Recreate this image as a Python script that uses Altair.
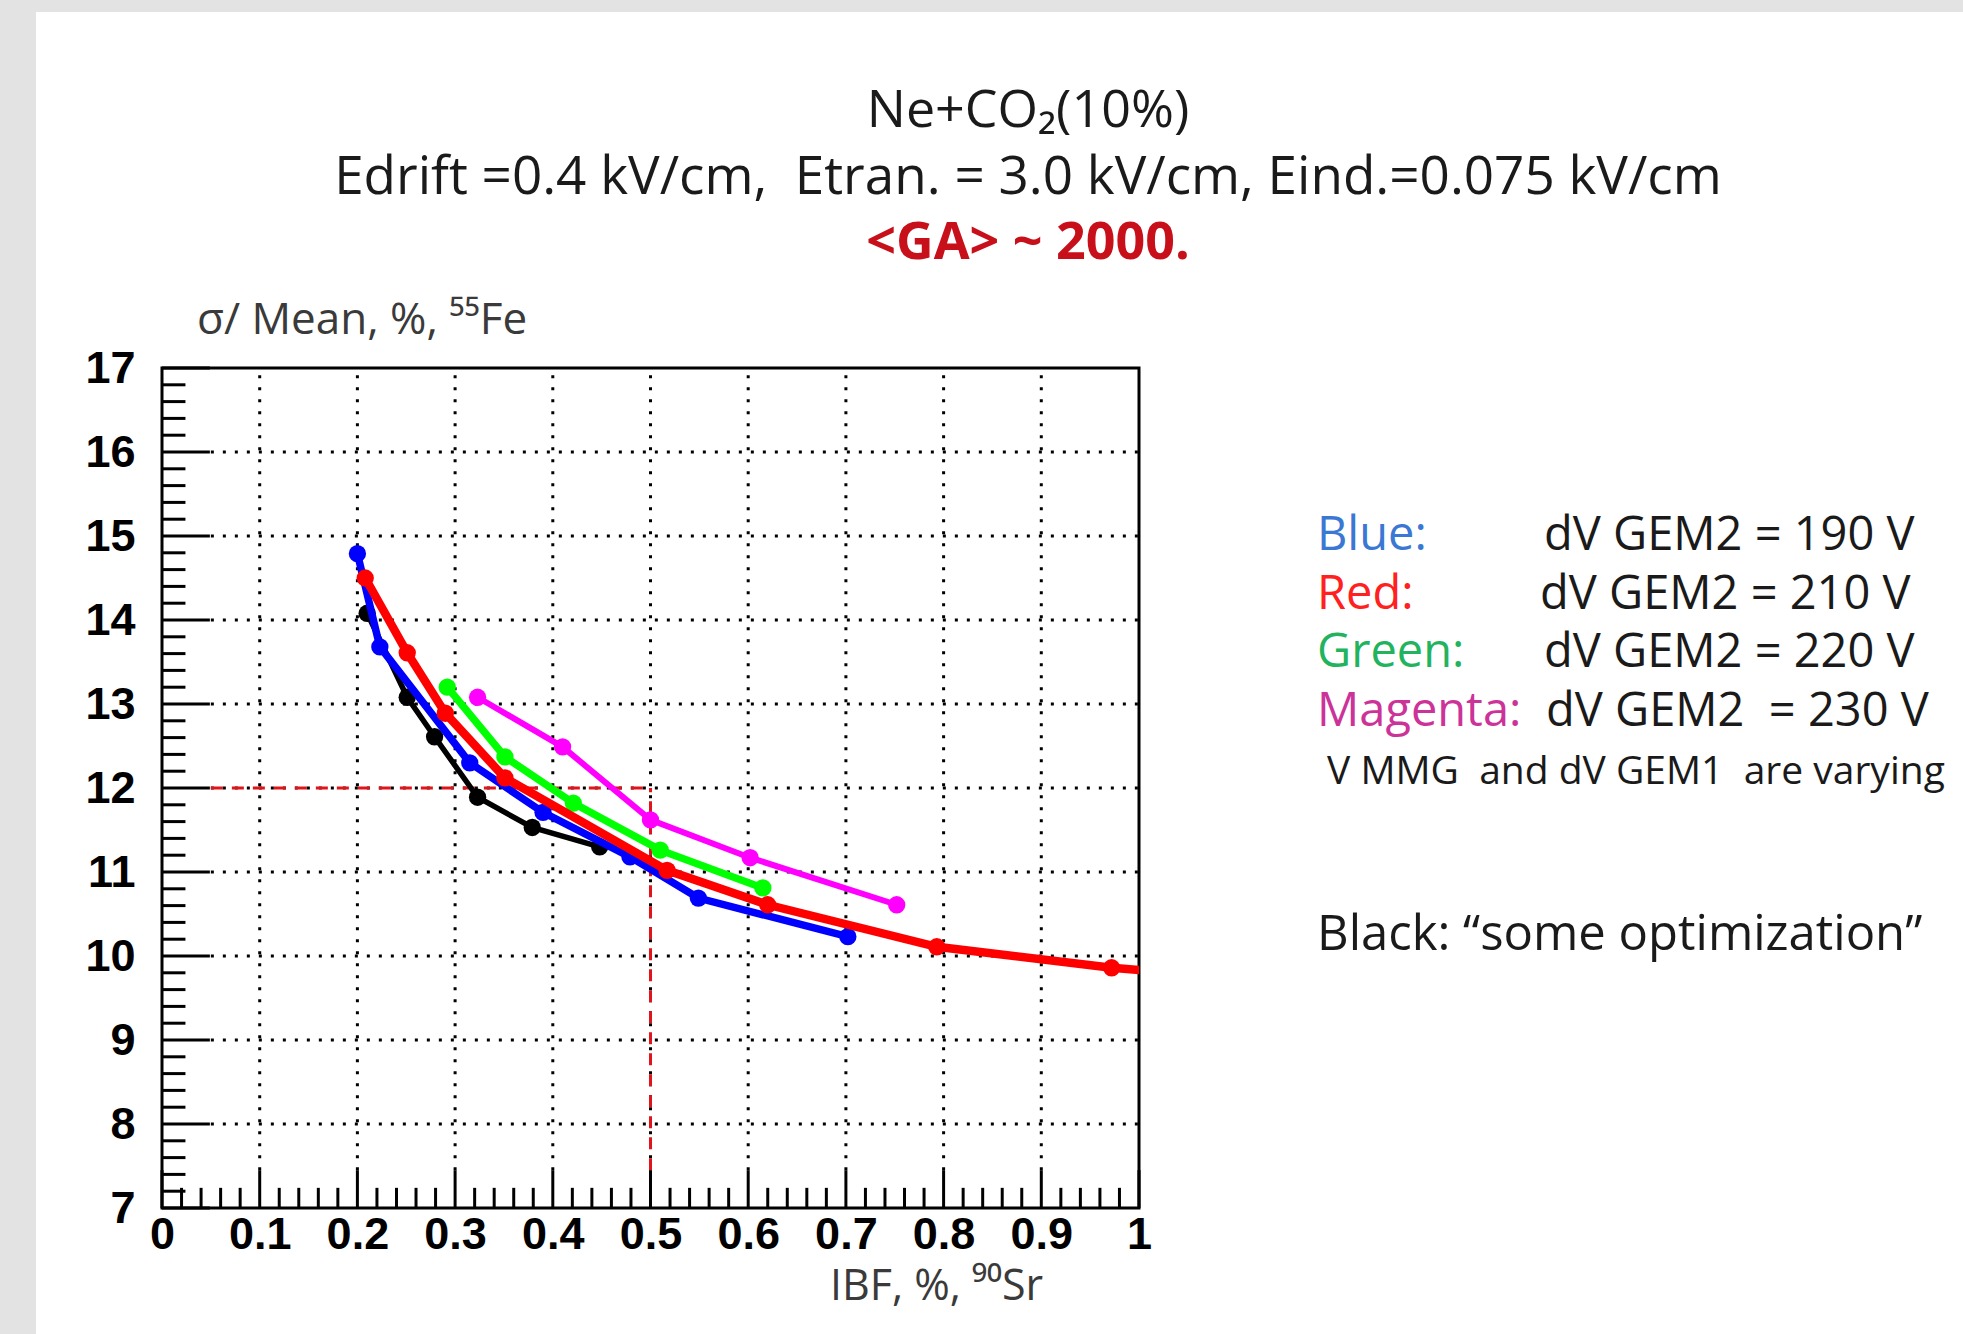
import altair as alt
import pandas as pd

# ---------------- data ----------------
black_x = [0.210, 0.251, 0.279, 0.323, 0.379, 0.448]
black_y = [14.08, 13.08, 12.61, 11.89, 11.53, 11.30]
blue_x = [0.200, 0.223, 0.315, 0.390, 0.479, 0.549, 0.702]
blue_y = [14.79, 13.68, 12.30, 11.71, 11.18, 10.69, 10.23]
green_x = [0.292, 0.351, 0.421, 0.510, 0.615]
green_y = [13.20, 12.37, 11.82, 11.26, 10.81]
magenta_x = [0.323, 0.410, 0.500, 0.602, 0.752]
magenta_y = [13.08, 12.49, 11.62, 11.17, 10.61]
red_x = [0.208, 0.251, 0.290, 0.351, 0.517, 0.620, 0.793, 0.972, 1.080]
red_y = [14.50, 13.61, 12.89, 12.12, 11.02, 10.61, 10.11, 9.86, 9.76]

series = [
    ("Black", black_x, black_y, "#000000", 5.5),
    ("Blue", blue_x, blue_y, "#0000ff", 7.5),
    ("Green", green_x, green_y, "#00ff00", 7.5),
    ("Magenta", magenta_x, magenta_y, "#ff00ff", 6),
    ("Red", red_x, red_y, "#ff0000", 8.5),
]

x_major = [0, 0.1, 0.2, 0.3, 0.4, 0.5, 0.6, 0.7, 0.8, 0.9, 1]
y_major = [7, 8, 9, 10, 11, 12, 13, 14, 15, 16, 17]
x_minor = [round(i * 0.02, 2) for i in range(51) if i % 5]
y_minor = [round(7 + i * 0.2, 1) for i in range(51) if i % 5]
x_grid = x_major[1:-1]
y_grid = y_major[1:-1]
ref_x = [0.5]
ref_y = [12]

NB = "\u00a0"
title_lines = ["Ne+CO\u2082(10%)",
               "Edrift =0.4 kV/cm," + NB + " Etran. = 3.0 kV/cm, Eind.=0.075 kV/cm",
               "<GA> ~ 2000."]
legend_keys = ["Blue:", "Red:", "Green:", "Magenta:"]
legend_vals = ["dV GEM2 = 190 V", "dV GEM2 = 210 V", "dV GEM2 = 220 V",
               "dV GEM2 " + NB + "= 230 V"]
legend_key_colors = ["#3a78d4", "#ff2020", "#22b35e", "#cc3399"]
note_text = "V MMG " + NB + "and dV GEM1 " + NB + "are varying"
black_note = "Black: \u201csome optimization\u201d"
y_title = "\u03c3/ Mean, %, \u2075\u2075Fe"
x_title = "IBF, %, \u2079\u2070Sr"

# ---------------- layout ----------------
L, T, W, H = 162, 368, 977, 840
CW, CH = 1963, 1334

xs = alt.Scale(domain=[0, 1], nice=False, zero=False)
ys = alt.Scale(domain=[7, 17], nice=False, zero=False)
X_AX = alt.Axis(values=x_major, format=".1~f", labelFont="Liberation Sans",
                labelFontWeight="bold", labelFontSize=45, labelColor="black",
                labelPadding=4, ticks=False, domain=False, grid=False, title=None,
                labelFlush=False, labelOverlap=False)
Y_AX = alt.Axis(values=y_major, format="d", labelFont="Liberation Sans",
                labelFontWeight="bold", labelFontSize=45, labelColor="black",
                labelPadding=27, ticks=False, domain=False, grid=False, title=None,
                labelFlush=False, labelOverlap=False)


def X(f):
    return alt.X(f, type="quantitative", scale=xs, axis=X_AX)


def Y(f):
    return alt.Y(f, type="quantitative", scale=ys, axis=Y_AX)


layers = []

# background strips (textured frame of the slide)
strip = pd.DataFrame({"a": [0]})
layers.append(alt.Chart(strip).mark_rect(color="#e3e3e3").encode(
    x=alt.value(-L), x2=alt.value(36 - L), y=alt.value(-T), y2=alt.value(CH - T)))
layers.append(alt.Chart(strip).mark_rect(color="#e3e3e3").encode(
    x=alt.value(-L), x2=alt.value(CW - L), y=alt.value(-T), y2=alt.value(12 - T)))

# dotted grid
gv = pd.DataFrame({"x": x_grid, "y0": [7.45] * len(x_grid), "y1": [17] * len(x_grid)})
gh = pd.DataFrame({"y": y_grid, "x0": [0.05] * len(y_grid), "x1": [1] * len(y_grid)})
layers.append(alt.Chart(gv).mark_rule(color="black", strokeWidth=3, strokeDash=[3, 9]).encode(
    x=X("x"), y=Y("y0"), y2="y1"))
layers.append(alt.Chart(gh).mark_rule(color="black", strokeWidth=3, strokeDash=[3, 9]).encode(
    x=X("x0"), x2="x1", y=Y("y")))

# red dashed reference lines
rh = pd.DataFrame({"y": ref_y, "x0": [0.05], "x1": ref_x})
rv = pd.DataFrame({"x": ref_x, "y0": [7.45], "y1": ref_y})
layers.append(alt.Chart(rh).mark_rule(color="#e0141a", strokeWidth=3, strokeDash=[12, 9]).encode(
    x=X("x0"), x2="x1", y=Y("y")))
layers.append(alt.Chart(rv).mark_rule(color="#e0141a", strokeWidth=3, strokeDash=[12, 9]).encode(
    x=X("x"), y=Y("y0"), y2="y1"))

# inside ticks
ymaj = pd.DataFrame({"y": y_major, "x0": [0] * len(y_major), "x1": [0.049] * len(y_major)})
ymin = pd.DataFrame({"y": y_minor, "x0": [0] * len(y_minor), "x1": [0.024] * len(y_minor)})
xmaj = pd.DataFrame({"x": x_major, "y0": [7] * len(x_major), "y1": [7.45] * len(x_major)})
xmin = pd.DataFrame({"x": x_minor, "y0": [7] * len(x_minor), "y1": [7.24] * len(x_minor)})
for d in (ymaj, ymin):
    layers.append(alt.Chart(d).mark_rule(color="black", strokeWidth=3).encode(
        x=X("x0"), x2="x1", y=Y("y")))
for d in (xmaj, xmin):
    layers.append(alt.Chart(d).mark_rule(color="black", strokeWidth=3).encode(
        x=X("x"), y=Y("y0"), y2="y1"))

# data series
for name, sx, sy, col, sw in series:
    d = pd.DataFrame({"x": sx, "y": sy})
    layers.append(alt.Chart(d).mark_line(color=col, strokeWidth=sw, clip=True).encode(
        x=X("x"), y=Y("y")))
    layers.append(alt.Chart(d).mark_point(color=col, filled=True, opacity=1, size=300,
                                          shape="circle", clip=True).encode(
        x=X("x"), y=Y("y")))


def label(text, x, y, size, color="#1a1a1a", weight="normal", align="left",
          font="Open Sans"):
    return alt.Chart(pd.DataFrame({"t": [text]})).mark_text(
        align=align, baseline="middle", font=font, fontSize=size,
        fontWeight=weight, color=color).encode(
        x=alt.value(x - L), y=alt.value(y - T), text="t:N")


# titles
layers.append(label(title_lines[0], 1028, 111, 52, align="center"))
layers.append(label(title_lines[1], 1028, 178, 53, align="center"))
layers.append(label(title_lines[2], 1028, 243, 52, color="#c8101a", weight="bold", align="center"))

# axis titles
layers.append(label(y_title, 197, 321, 44, color="#3a3a3a"))
layers.append(label(x_title, 830, 1287, 43, color="#3a3a3a"))

# legend text block
key_y = [536, 595, 653, 712]
val_x = [1544, 1540, 1544, 1546]
for k, v, c, yy, vx in zip(legend_keys, legend_vals, legend_key_colors, key_y, val_x):
    layers.append(label(k, 1317, yy, 47, color=c))
    layers.append(label(v, vx, yy, 47))
layers.append(label(note_text, 1327, 772, 39))
layers.append(label(black_note, 1317, 935, 49))

chart = alt.layer(*layers).properties(
    width=W, height=H,
    autosize=alt.AutoSizeParams(type="none"),
    padding={"left": L, "top": T, "right": CW - L - W, "bottom": CH - T - H},
    background="white",
).configure_view(stroke="black", strokeWidth=3)

chart.save("out.html", embed_options={"renderer": "svg", "actions": False})
